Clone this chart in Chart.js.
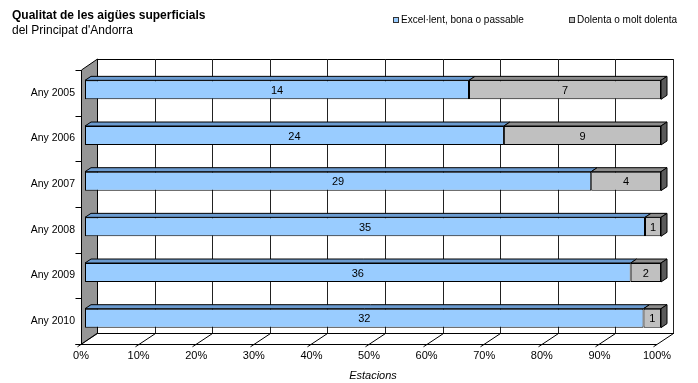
<!DOCTYPE html>
<html>
<head>
<meta charset="utf-8">
<title>Qualitat de les aigües superficials</title>
<script src="https://cdn.jsdelivr.net/npm/chart.js@4/dist/chart.umd.min.js"></script>
<style>
  html, body { margin: 0; padding: 0; background: #fff; }
  #wrap { width: 698px; height: 383px; }
</style>
</head>
<body>
<div id="wrap"><canvas id="barChart" width="698" height="383"></canvas></div>
<script>
'use strict';

// data (number of stations per year)
var years = ['Any 2005', 'Any 2006', 'Any 2007', 'Any 2008', 'Any 2009', 'Any 2010'];
var goodStations = [14, 24, 29, 35, 36, 32];
var badStations = [7, 9, 4, 1, 2, 1];
var seriesNames = ['Excel\u00b7lent, bona o passable', 'Dolenta o molt dolenta'];
var percentTicks = [0, 10, 20, 30, 40, 50, 60, 70, 80, 90, 100];

// Main colors
var blueFront = '#99ccff';
var blueTop = '#6b9bd0';
var greyFront = '#c0c0c0';
var greyTop = '#8c8c8c';
var greySide = '#5a5a5a';
var wallColor = '#969696';

// shares in % so both segments fill the row
var goodShare = [];
var badShare = [];
for (var i = 0; i < years.length; i++) {
    var total = goodStations[i] + badStations[i];
    goodShare.push(goodStations[i] / total * 100);
    badShare.push(badStations[i] / total * 100);
}

var FONT = "'Liberation Sans', Arial, sans-serif";
Chart.defaults.font.family = FONT;
Chart.defaults.color = '#000';

// offsets of the front axis plane / back wall from the bar plane
var frontDx = -4, frontDy = 3;
var backDx = 12, backDy = -8;
var barDx = 6, barDy = -4;

function line(ctx, x1, y1, x2, y2) {
    ctx.beginPath();
    ctx.moveTo(x1, y1);
    ctx.lineTo(x2, y2);
    ctx.stroke();
}

function poly(ctx, pts, fill) {
    ctx.beginPath();
    ctx.moveTo(pts[0][0], pts[0][1]);
    for (var k = 1; k < pts.length; k++) {
        ctx.lineTo(pts[k][0], pts[k][1]);
    }
    ctx.closePath();
    ctx.fillStyle = fill;
    ctx.fill();
    ctx.stroke();
}

var boxPlugin = {
    id: 'box3d',
    beforeDatasetsDraw: function (chart) {
        var ctx = chart.ctx;
        var a = chart.chartArea;
        var xs = chart.scales.x;
        ctx.save();
        ctx.lineWidth = 1;
        ctx.strokeStyle = '#000';

        // back wall
        ctx.fillStyle = '#fff';
        ctx.fillRect(a.left + backDx, a.top + backDy, a.right - a.left, a.bottom - a.top);
        ctx.strokeRect(Math.round(a.left + backDx) + 0.5, Math.round(a.top + backDy) + 0.5,
            Math.round(a.right - a.left), Math.round(a.bottom - a.top));

        // vertical grid lines + floor lines
        percentTicks.forEach(function (v) {
            var px = Math.round(xs.getPixelForValue(v)) + 0.5;
            ctx.strokeStyle = '#222';
            line(ctx, px + backDx, a.top + backDy, px + backDx, a.bottom + backDy);
            ctx.strokeStyle = '#000';
            line(ctx, px + frontDx - 4, a.bottom + frontDy + 2.75, px + backDx, a.bottom + backDy + 0.5);
        });

        // left wall
        var lx = Math.round(a.left) + 0.5;
        poly(ctx, [
            [lx + frontDx, a.top + frontDy],
            [lx + backDx, a.top + backDy],
            [lx + backDx, a.bottom + backDy],
            [lx + frontDx, a.bottom + frontDy]
        ], wallColor);

        // front axis + category ticks
        var fy = Math.round(a.bottom + frontDy) + 0.5;
        line(ctx, lx + frontDx - 6, fy, Math.round(a.right) + frontDx, fy);
        var step = (a.bottom - a.top) / years.length;
        for (var j = 0; j <= years.length; j++) {
            var ty = Math.round(a.top + frontDy + j * step) + 0.5;
            line(ctx, lx + frontDx - 6, ty, lx + frontDx, ty);
        }
        ctx.restore();
    },
    afterDatasetsDraw: function (chart) {
        var ctx = chart.ctx;
        ctx.save();
        ctx.lineWidth = 1;
        ctx.strokeStyle = '#000';
        var tops = [blueTop, greyTop];
        var counts = [goodStations, badStations];
        var last = chart.data.datasets.length - 1;

        chart.data.datasets.forEach(function (ds, di) {
            var meta = chart.getDatasetMeta(di);
            meta.data.forEach(function (bar, idx) {
                var p = bar.getProps(['x', 'y', 'base', 'height'], true);
                var x0 = Math.min(p.base, p.x), x1 = Math.max(p.base, p.x);
                var yt = p.y - p.height / 2, yb = p.y + p.height / 2;
                poly(ctx, [[x0, yt], [x0 + barDx, yt + barDy], [x1 + barDx, yt + barDy], [x1, yt]], tops[di]);
                if (di === last) {
                    poly(ctx, [[x1, yt], [x1 + barDx, yt + barDy], [x1 + barDx, yb + barDy], [x1, yb]], greySide);
                }
                ctx.fillStyle = '#000';
                ctx.font = '11px ' + FONT;
                ctx.textAlign = 'center';
                ctx.textBaseline = 'middle';
                ctx.fillText(String(counts[di][idx]), (x0 + x1) / 2, p.y + 1);
            });
        });
        ctx.restore();
    },
    afterDraw: function (chart) {
        var ctx = chart.ctx;
        ctx.save();
        ctx.fillStyle = '#000';
        ctx.textBaseline = 'middle';
        ctx.textAlign = 'left';
        ctx.font = 'bold 12px ' + FONT;
        ctx.fillText('Qualitat de les aig\u00fces superficials', 12, 16);
        ctx.font = '12px ' + FONT;
        ctx.fillText("del Principat d'Andorra", 12, 31);

        // legend
        var lx = [393, 569];
        var fills = [blueFront, greyFront];
        ctx.font = '10px ' + FONT;
        ctx.lineWidth = 1;
        for (var k = 0; k < seriesNames.length; k++) {
            ctx.fillStyle = fills[k];
            ctx.fillRect(lx[k] + 0.5, 17.5, 5, 5);
            ctx.strokeStyle = '#333';
            ctx.strokeRect(lx[k] + 0.5, 17.5, 5, 5);
            ctx.fillStyle = '#000';
            ctx.fillText(seriesNames[k], lx[k] + 8, 20.5);
        }
        ctx.restore();
    }
};

var BARCHART = document.getElementById('barChart');
var myBarChart = new Chart(BARCHART, {
    type: 'bar',
    plugins: [boxPlugin],
    data: {
        labels: years,
        datasets: [
            {
                label: seriesNames[0],
                data: goodShare,
                backgroundColor: blueFront,
                borderColor: '#000',
                borderWidth: 1,
                borderSkipped: false,
                barPercentage: 0.415,
                categoryPercentage: 1
            },
            {
                label: seriesNames[1],
                data: badShare,
                backgroundColor: greyFront,
                borderColor: '#000',
                borderWidth: 1,
                borderSkipped: false,
                barPercentage: 0.415,
                categoryPercentage: 1
            }
        ]
    },
    options: {
        indexAxis: 'y',
        responsive: false,
        animation: false,
        layout: { padding: { top: 67, right: 37, bottom: 0, left: 0 } },
        plugins: {
            legend: { display: false },
            tooltip: { enabled: false }
        },
        scales: {
            x: {
                stacked: true,
                min: 0,
                max: 100,
                grid: { display: false, drawTicks: false },
                border: { display: false },
                ticks: {
                    stepSize: 10,
                    padding: 8,
                    labelOffset: -4,
                    maxRotation: 0,
                    font: { size: 11 },
                    callback: function (v) { return v + '%'; }
                },
                title: {
                    display: true,
                    text: 'Estacions',
                    font: { size: 11, style: 'italic' },
                    padding: { top: 0, bottom: 0 }
                },
                afterFit: function (scale) { scale.height = 42; }
            },
            y: {
                stacked: true,
                grid: { display: false, drawTicks: false },
                border: { display: false },
                ticks: {
                    padding: 10,
                    labelOffset: 3,
                    font: { size: 10.5 }
                },
                afterFit: function (scale) { scale.width = 85; }
            }
        }
    }
});
</script>
</body>
</html>
